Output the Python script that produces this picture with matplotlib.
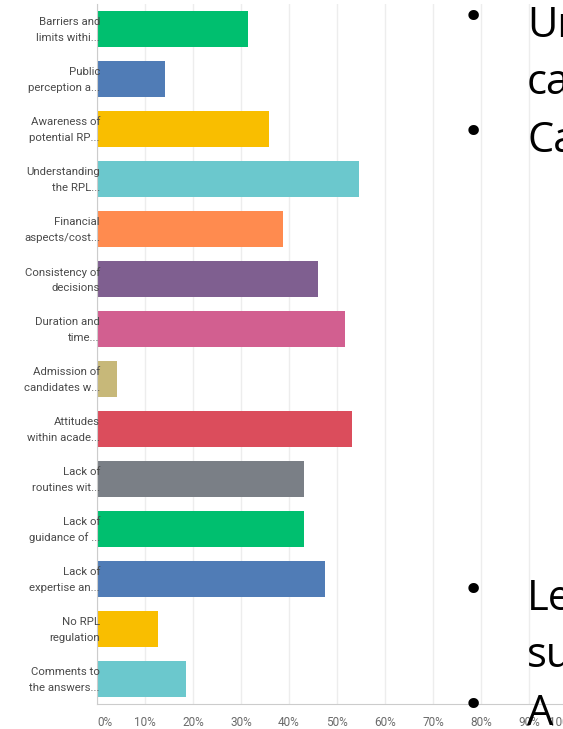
import numpy as np
import matplotlib.pyplot as plt
from matplotlib.transforms import blended_transform_factory

# survey answers (share of respondents, %)
labels = ["Barriers and\nlimits withi...", "Public\nperception a...",
          "Awareness of\npotential RP...", "Understanding\nthe RPL...",
          "Financial\naspects/cost...", "Consistency of\ndecisions",
          "Duration and\ntime...", "Admission of\ncandidates w...",
          "Attitudes\nwithin acade...", "Lack of\nroutines wit...",
          "Lack of\nguidance of ...", "Lack of\nexpertise an...",
          "No RPL\nregulation", "Comments to\nthe answers..."]
values = [31.5, 14.2, 35.8, 54.6, 38.8, 46.0, 51.7, 4.2, 53.1, 43.1, 43.1, 47.5, 12.7, 18.5]
palette = ["#00BF6F", "#507CB6", "#F9BE00", "#6BC8CD", "#FF8B4F",
           "#7F5F90", "#D25F90", "#C7B879", "#DB4D5C", "#7A7F86"]
colors = [palette[i % len(palette)] for i in range(len(values))]
ticks = list(range(0, 101, 10))

# slide text lying over the chart (text, top y in px, has bullet)
slide_lines = [("Un", 5, True), ("ca", 62, False), ("Ca", 120, True),
               ("Le", 578, True), ("su", 635, False), ("A", 693, True)]

W, H = 563, 729
fig = plt.figure(figsize=(W / 100, H / 100), dpi=100)
ax = fig.add_axes([97 / W, 25 / H, 480 / W, 700 / H])

y = np.arange(len(values))
ax.barh(y, values, height=0.72, color=colors, zorder=2)
ax.set_ylim(len(values) - 0.5, -0.5)
ax.set_xlim(0, 100)

ax.set_xticks(ticks)
ax.set_xticklabels([f"{t}%" for t in ticks], fontsize=8.5, color="#6b6b6b",
                   family="Roboto")
ax.get_xticklabels()[0].set_ha("left")
ax.get_xticklabels()[-1].set_ha("right")
ax.tick_params(axis="x", length=0, pad=9)
ax.grid(axis="x", color="#ededed", lw=1, zorder=0)

ax.set_yticks([])
tr = blended_transform_factory(ax.transAxes, ax.transData)
for yi, lab in zip(y, labels):
    ax.text(0.006, yi + 0.02, lab, transform=tr, ha="right", va="center",
            fontsize=8.2, color="#4a4a4a", family="Roboto", linespacing=1.65,
            zorder=3)

for s in ["top", "right"]:
    ax.spines[s].set_visible(False)
ax.spines["left"].set_color("#cccccc")
ax.spines["bottom"].set_color("#cccccc")

for txt, top, bullet in slide_lines:
    fig.text(527 / W, 1 - top / H, txt, ha="left", va="top", fontsize=30,
             family="Open Sans", color="black")
    if bullet:
        fig.text(473 / W, 1 - (top + 13) / H, "\u2022", ha="center", va="center",
                 fontsize=26, family="DejaVu Sans", color="black")

fig.savefig("out.png", dpi=100)
